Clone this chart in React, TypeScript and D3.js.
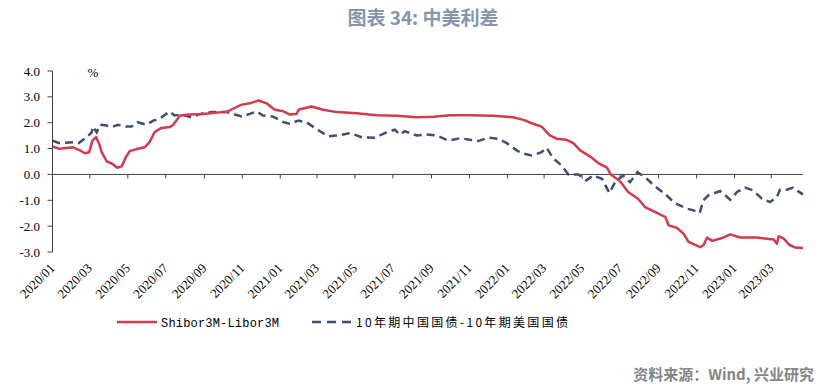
import React from "react";
import * as d3 from "d3";

// Shibor3M - Libor3M (%)
const shiborLibor: [string, number][] = [
  ["2020-01-01", 1.08], ["2020-01-12", 0.99], ["2020-02-03", 1.05], ["2020-02-14", 0.93],
  ["2020-02-22", 0.82], ["2020-02-29", 0.86], ["2020-03-05", 1.31], ["2020-03-11", 1.44],
  ["2020-03-16", 1.18], ["2020-03-20", 0.86], ["2020-03-28", 0.51], ["2020-04-06", 0.41],
  ["2020-04-14", 0.26], ["2020-04-21", 0.31], ["2020-04-28", 0.67], ["2020-05-04", 0.9],
  ["2020-05-15", 0.98], ["2020-05-28", 1.05], ["2020-06-05", 1.25], ["2020-06-13", 1.63],
  ["2020-06-24", 1.8], ["2020-07-08", 1.83], ["2020-07-13", 1.92], ["2020-07-24", 2.28],
  ["2020-08-09", 2.32], ["2020-08-30", 2.34], ["2020-09-21", 2.39], ["2020-10-07", 2.42],
  ["2020-10-17", 2.54], ["2020-10-31", 2.7], ["2020-11-13", 2.75], ["2020-11-27", 2.86],
  ["2020-12-10", 2.75], ["2020-12-23", 2.5], ["2021-01-06", 2.44], ["2021-01-16", 2.32],
  ["2021-01-27", 2.34], ["2021-01-31", 2.51], ["2021-02-20", 2.63], ["2021-03-11", 2.5],
  ["2021-04-02", 2.41], ["2021-05-04", 2.37], ["2021-06-05", 2.29], ["2021-07-07", 2.27],
  ["2021-08-08", 2.21], ["2021-09-04", 2.23], ["2021-10-01", 2.29], ["2021-11-02", 2.29],
  ["2021-12-09", 2.27], ["2022-01-10", 2.21], ["2022-01-27", 2.11], ["2022-02-09", 1.98],
  ["2022-02-25", 1.85], ["2022-03-10", 1.51], ["2022-03-21", 1.38], ["2022-04-06", 1.34],
  ["2022-04-17", 1.21], ["2022-04-28", 0.93], ["2022-05-14", 0.69], ["2022-05-27", 0.44],
  ["2022-06-10", 0.26], ["2022-06-16", 0.0], ["2022-07-01", -0.26], ["2022-07-14", -0.68],
  ["2022-07-30", -0.94], ["2022-08-10", -1.26], ["2022-08-27", -1.46], ["2022-09-12", -1.65],
  ["2022-09-17", -1.97], ["2022-09-30", -2.06], ["2022-10-11", -2.29], ["2022-10-19", -2.61],
  ["2022-11-07", -2.81], ["2022-11-12", -2.74], ["2022-11-18", -2.44], ["2022-11-26", -2.57],
  ["2022-12-12", -2.46], ["2022-12-25", -2.32], ["2023-01-10", -2.44], ["2023-02-06", -2.44],
  ["2023-03-05", -2.52], ["2023-03-10", -2.68], ["2023-03-13", -2.39], ["2023-03-21", -2.48],
  ["2023-03-31", -2.74], ["2023-04-09", -2.83], ["2023-04-21", -2.85],
];

// 10年期中国国债 - 10年期美国国债 (%)
const bondSpread: [string, number][] = [
  ["2020-01-01", 1.31], ["2020-01-12", 1.21], ["2020-02-03", 1.24], ["2020-02-12", 1.21],
  ["2020-02-25", 1.44], ["2020-03-04", 1.63], ["2020-03-06", 1.85], ["2020-03-12", 1.63],
  ["2020-03-17", 1.92], ["2020-03-28", 1.89], ["2020-04-05", 1.83], ["2020-04-15", 1.92],
  ["2020-04-29", 1.85], ["2020-05-07", 1.85], ["2020-05-17", 2.02], ["2020-05-31", 1.92],
  ["2020-06-11", 2.08], ["2020-06-21", 2.15], ["2020-07-07", 2.43], ["2020-07-15", 2.28],
  ["2020-07-26", 2.32], ["2020-08-11", 2.21], ["2020-08-30", 2.37], ["2020-09-15", 2.41],
  ["2020-10-07", 2.41], ["2020-10-17", 2.34], ["2020-10-31", 2.24], ["2020-11-13", 2.34],
  ["2020-11-24", 2.44], ["2020-12-04", 2.28], ["2020-12-20", 2.24], ["2021-01-06", 2.02],
  ["2021-01-16", 1.96], ["2021-01-30", 2.08], ["2021-02-12", 2.02], ["2021-02-28", 1.76],
  ["2021-03-19", 1.47], ["2021-04-04", 1.51], ["2021-04-23", 1.6], ["2021-05-12", 1.44],
  ["2021-06-02", 1.42], ["2021-06-18", 1.6], ["2021-07-04", 1.73], ["2021-07-12", 1.54],
  ["2021-07-20", 1.67], ["2021-08-08", 1.51], ["2021-08-24", 1.54], ["2021-09-09", 1.51],
  ["2021-09-28", 1.31], ["2021-10-17", 1.4], ["2021-11-02", 1.34], ["2021-11-15", 1.29],
  ["2021-12-01", 1.42], ["2021-12-17", 1.38], ["2021-12-31", 1.21], ["2022-01-16", 0.93],
  ["2022-01-24", 0.82], ["2022-02-09", 0.73], ["2022-02-25", 0.86], ["2022-03-05", 1.03],
  ["2022-03-16", 0.61], ["2022-03-29", 0.35], ["2022-04-09", 0.0], ["2022-04-25", 0.0],
  ["2022-05-08", -0.23], ["2022-05-19", -0.04], ["2022-06-02", -0.17], ["2022-06-14", -0.72],
  ["2022-06-23", -0.3], ["2022-07-06", -0.04], ["2022-07-17", -0.3], ["2022-07-29", 0.09],
  ["2022-08-13", -0.17], ["2022-08-26", -0.46], ["2022-09-12", -0.77], ["2022-09-27", -1.11],
  ["2022-10-16", -1.32], ["2022-10-27", -1.39], ["2022-11-06", -1.49], ["2022-11-12", -1.0],
  ["2022-11-20", -0.81], ["2022-12-09", -0.64], ["2022-12-25", -0.98], ["2023-01-05", -0.68],
  ["2023-01-18", -0.51], ["2023-01-31", -0.62], ["2023-02-14", -0.94], ["2023-02-27", -1.07],
  ["2023-03-10", -0.88], ["2023-03-15", -0.59], ["2023-03-26", -0.59], ["2023-04-05", -0.51],
  ["2023-04-11", -0.62], ["2023-04-21", -0.77],
];

const yTicks = [-3, -2, -1, 0, 1, 2, 3, 4];
const xTickLabels = [
  "2020/01", "2020/03", "2020/05", "2020/07", "2020/09", "2020/11",
  "2021/01", "2021/03", "2021/05", "2021/07", "2021/09", "2021/11",
  "2022/01", "2022/03", "2022/05", "2022/07", "2022/09", "2022/11",
  "2023/01", "2023/03",
];

const W = 823;
const H = 389;
const PLOT = { left: 52.5, right: 803, top: 71, bottom: 252 };
const RED = "#D33A4E";
const BLUE = "#3E5072";
const SERIF = "'Liberation Serif', 'Times New Roman', serif";
const CJK = "'Noto Sans CJK SC', 'Noto Sans', sans-serif";

const parse = d3.timeParse("%Y-%m-%d");
const parseTick = d3.timeParse("%Y/%m");

export default function App() {
  const xScale = d3
    .scaleTime()
    .domain([parse("2020-01-01")!, parse("2023-04-21")!])
    .range([PLOT.left, PLOT.right]);
  const yScale = d3.scaleLinear().domain([-3, 4]).range([PLOT.bottom, PLOT.top]);
  const y0 = yScale(0);

  const line = d3
    .line<[string, number]>()
    .x((d) => xScale(parse(d[0])!))
    .y((d) => yScale(d[1]));

  return (
    <div style={{ position: "absolute", left: 0, top: 0 }}>
      <svg width={W} height={H} style={{ display: "block", background: "#fff" }}>
        <text
          x={423}
          y={25}
          textAnchor="middle"
          fontFamily={CJK}
          fontWeight="bold"
          fontSize={19}
          fill="#8596AE"
        >
          图表 34: 中美利差
        </text>

        {/* y axis */}
        <line x1={PLOT.left} x2={PLOT.left} y1={PLOT.top} y2={PLOT.bottom} stroke="#404040" />
        {yTicks.map((t) => (
          <g key={t}>
            <line x1={PLOT.left - 5} x2={PLOT.left} y1={yScale(t)} y2={yScale(t)} stroke="#404040" />
            <text
              x={40}
              y={yScale(t) + 4.5}
              textAnchor="end"
              fontFamily={SERIF}
              fontSize={13}
              fill="#000"
            >
              {t.toFixed(1)}
            </text>
          </g>
        ))}
        <text x={93} y={77} textAnchor="middle" fontFamily={SERIF} fontSize={13}>
          %
        </text>

        {/* x axis on zero line */}
        <line x1={PLOT.left} x2={PLOT.right} y1={y0} y2={y0} stroke="#404040" />
        {xTickLabels.map((lab) => {
          const x = xScale(parseTick(lab)!);
          return (
            <g key={lab}>
              <line x1={x} x2={x} y1={y0} y2={y0 + 4} stroke="#404040" />
              <text
                transform={`translate(${x + 3},${269}) rotate(-45)`}
                textAnchor="end"
                fontFamily={SERIF}
                fontSize={13}
                fill="#000"
              >
                {lab}
              </text>
            </g>
          );
        })}

        <path d={line(bondSpread)!} fill="none" stroke={BLUE} strokeWidth={2.5} strokeDasharray="8 5" />
        <path d={line(shiborLibor)!} fill="none" stroke={RED} strokeWidth={2.5} strokeLinejoin="round" />

        {/* legend */}
        <line x1={117} x2={157} y1={322} y2={322} stroke={RED} strokeWidth={2.5} />
        <text
          x={161}
          y={326.5}
          fontFamily="'Liberation Mono', monospace"
          fontSize={12}
          textLength={118}
          lengthAdjust="spacing"
        >
          Shibor3M-Libor3M
        </text>
        <line x1={312} x2={353} y1={322} y2={322} stroke={BLUE} strokeWidth={2.5} strokeDasharray="9 6" />
        <text x={356} y={326.5} fontFamily={CJK} fontSize={12} textLength={212} lengthAdjust="spacing">
          10年期中国国债-10年期美国国债
        </text>

        <text
          x={814}
          y={380}
          textAnchor="end"
          fontFamily={CJK}
          fontWeight="bold"
          fontSize={15}
          fill="#858585"
        >
          资料来源：Wind, 兴业研究
        </text>
      </svg>
    </div>
  );
}
